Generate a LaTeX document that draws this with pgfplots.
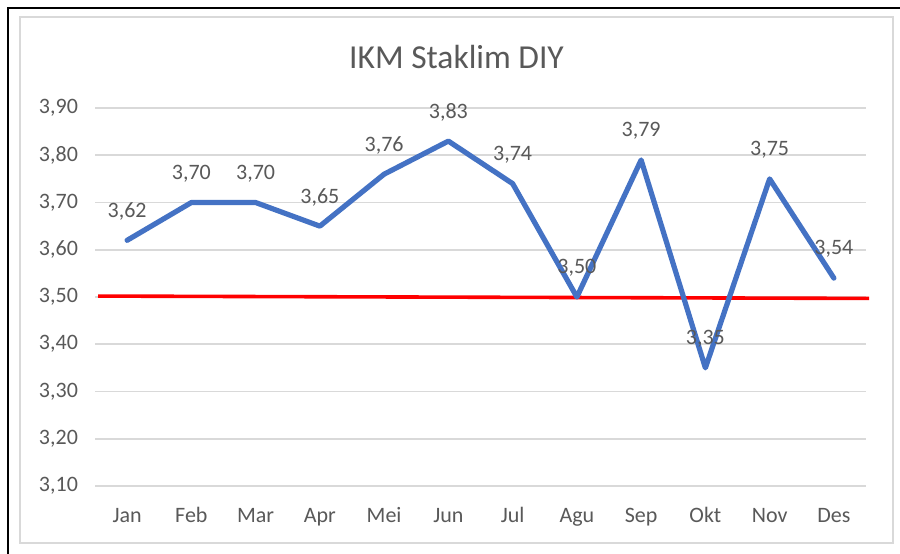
\documentclass[border=0pt]{standalone}
\usepackage{fontspec}
\setmainfont{Carlito}
\usepackage{pgfplots}
\pgfplotsset{compat=1.18}
\definecolor{txtgray}{HTML}{595959}
\definecolor{gridgray}{HTML}{D9D9D9}
\definecolor{xlblue}{HTML}{4472C4}
\begin{document}
\begin{tikzpicture}
\path[use as bounding box] (0,0) rectangle (450pt,276.5pt);
\fill[white] (0,0) rectangle (450pt,276.5pt);
% outer black frame (cut at right and bottom)
\draw[black, line width=1.3pt] (4pt,-2pt) -- (4pt,272.5pt) -- (452pt,272.5pt);
% inner chart area frame
\draw[gridgray, line width=0.8pt] (10pt,5pt) rectangle (446.5pt,268pt);
% title
\node[text=txtgray, font=\fontsize{16.75}{20}\selectfont] at (228.25pt,248pt) {IKM Staklim DIY};
\begin{axis}[
  at={(47.5pt,33.5pt)}, anchor=south west,
  scale only axis, width=385.5pt, height=189pt,
  xmin=-0.5, xmax=11.5, ymin=3.10, ymax=3.90,
  clip=false,
  axis line style={draw=none},
  major tick length=0pt,
  xtick={0,...,11},
  xticklabels={Jan,Feb,Mar,Apr,Mei,Jun,Jul,Agu,Sep,Okt,Nov,Des},
  ytick={3.1,3.2,3.3,3.4,3.5,3.6,3.7,3.8,3.9},
  ymajorgrids, grid style={gridgray, line width=0.9pt},
  tick label style={text=txtgray, font=\fontsize{11}{13}\selectfont},
  xticklabel style={anchor=base, yshift=-18pt},
  yticklabel style={anchor=east, xshift=-5pt},
  /pgf/number format/.cd, fixed, fixed zerofill, precision=2, use comma, assume math mode=true,
]
\addplot[red, line width=1.8pt] coordinates {(-0.45,3.502) (11.55,3.497)};
\addplot[xlblue, line width=2.6pt, line join=round, line cap=round,
  nodes near coords,
  every node near coord/.style={anchor=center, yshift=14.5pt, text=txtgray, font=\fontsize{11}{13}\selectfont, /pgf/number format/.cd, fixed, fixed zerofill, precision=2, use comma, assume math mode=true}]
  coordinates {(0,3.62) (1,3.70) (2,3.70) (3,3.65) (4,3.76) (5,3.83) (6,3.74) (7,3.50) (8,3.79) (9,3.35) (10,3.75) (11,3.54)};
\end{axis}
\end{tikzpicture}
\end{document}
